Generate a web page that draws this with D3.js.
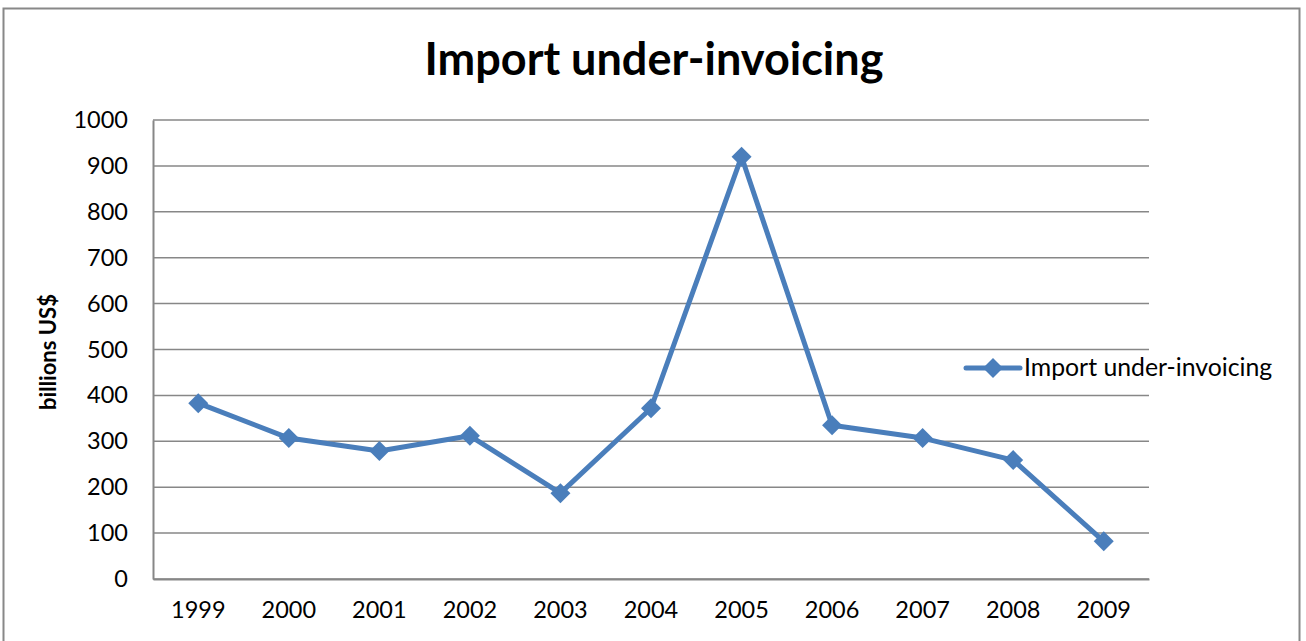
<!DOCTYPE html>
<html><head><meta charset="utf-8">
<script src="https://cdn.jsdelivr.net/npm/d3@7"></script>
<style>body{margin:0;background:#fff}svg{display:block}</style>
</head><body>
<svg id="c" width="1306" height="641"></svg>
<script>
const years = ["1999","2000","2001","2002","2003","2004","2005","2006","2007","2008","2009"];
const values = [383, 307, 279, 312, 187, 372, 920, 335, 307, 259, 82];
const yTicks = [0,100,200,300,400,500,600,700,800,900,1000];
const seriesName = "Import under-invoicing";
const titleText = "Import under-invoicing";
const yLabel = "billions US$";

const svg = d3.select("#c");
const font = "Lato, 'Open Sans', sans-serif";
const color = "#4a7ebb";

svg.append("rect").attr("x",3.5).attr("y",8.5).attr("width",1296).attr("height",640)
  .attr("fill","#fff").attr("stroke","#888").attr("stroke-width",2);

const L=153, R=1149, T=120, B=579;
const x = d3.scaleBand().domain(years).range([L,R]);
const y = d3.scaleLinear().domain([0,1000]).range([B,T]);

svg.append("g").selectAll("line").data(yTicks).join("line")
  .attr("x1",L).attr("x2",R).attr("y1",d=>y(d)).attr("y2",d=>y(d))
  .attr("stroke","#878787").attr("stroke-width",1.5);

const ya = svg.append("g").attr("transform",`translate(${L},0)`)
  .call(d3.axisLeft(y).tickValues(yTicks).tickFormat(d3.format("d")).tickSize(0).tickPadding(25));
ya.select(".domain").attr("stroke","#878787").attr("stroke-width",2);
ya.selectAll("text").attr("font-family",font).attr("font-size",23.5).attr("fill","#000");

const xa = svg.append("g").attr("transform",`translate(0,${B})`)
  .call(d3.axisBottom(x).tickSize(0).tickPadding(22));
xa.select(".domain").attr("stroke","#878787").attr("stroke-width",2);
xa.selectAll("text").attr("font-family",font).attr("font-size",23.5).attr("fill","#000");

const line = d3.line().x((d,i)=>x(years[i])+x.bandwidth()/2).y(d=>y(d));
svg.append("path").datum(values).attr("d",line).attr("fill","none")
  .attr("stroke",color).attr("stroke-width",5).attr("stroke-linejoin","round");

const diamond = d3.symbol().type(d3.symbolSquare).size(200);
svg.append("g").selectAll("path").data(values).join("path")
  .attr("d",diamond())
  .attr("transform",(d,i)=>`translate(${x(years[i])+x.bandwidth()/2},${y(d)}) rotate(45)`)
  .attr("fill",color);

svg.append("text").attr("x",654).attr("y",75).attr("text-anchor","middle")
  .attr("font-family",font).attr("font-weight","bold").attr("font-size",45)
  .text(titleText);

svg.append("text").attr("transform","translate(56,352) rotate(-90)")
  .attr("text-anchor","middle").attr("font-family",font).attr("font-weight","bold")
  .attr("font-size",22).text(yLabel);

const lg = svg.append("g");
lg.append("line").attr("x1",966).attr("x2",1020).attr("y1",368).attr("y2",368)
  .attr("stroke",color).attr("stroke-width",5).attr("stroke-linecap","round");
lg.append("path").attr("d",diamond()).attr("transform","translate(993,368) rotate(45)").attr("fill",color);
lg.append("text").attr("x",1024).attr("y",376).attr("font-family",font).attr("font-size",24.8)
  .text(seriesName);
</script>
</body></html>
